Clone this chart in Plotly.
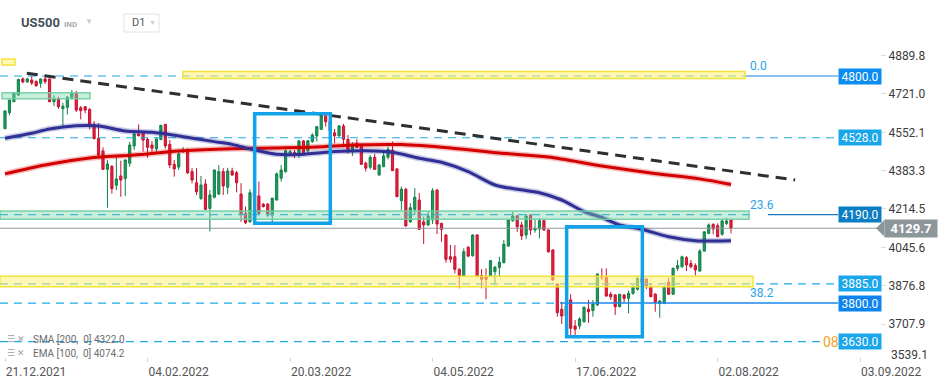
import plotly.graph_objects as go

# ---------------- data ----------------
open_ = [4568, 4638, 4687, 4716, 4787, 4774, 4782, 4777, 4768, 4787,
         4787, 4687, 4699, 4656, 4662, 4706, 4724, 4660, 4665, 4653,
         4587, 4526, 4470, 4389, 4402, 4319, 4360, 4348, 4416, 4492,
         4545, 4548, 4521, 4496, 4479, 4520, 4587, 4499, 4411, 4399,
         4468, 4474, 4379, 4330, 4261, 4324, 4217, 4266, 4280, 4379,
         4310, 4382, 4374, 4280, 4195, 4158, 4289, 4272, 4235, 4236,
         4188, 4254, 4350, 4379, 4460, 4464, 4460, 4514, 4471, 4511,
         4536, 4565, 4625, 4602, 4550, 4536, 4580, 4521, 4470, 4504,
         4492, 4416, 4398, 4442, 4364, 4401, 4442, 4474, 4391, 4251,
         4301, 4158, 4213, 4254, 4158, 4144, 4166, 4298, 4151, 4100,
         4004, 4004, 3949, 3919, 4046, 4009, 4100, 3921, 3916, 3919,
         3938, 3957, 3978, 4051, 4163, 4184, 4144, 4100, 4188, 4122,
         4126, 4163, 4122, 4034, 3884, 3773, 3743, 3814, 3699, 3699,
         3718, 3774, 3767, 3792, 3919, 3914, 3839, 3836, 3784, 3836,
         3821, 3843, 3861, 3910, 3906, 3872, 3840, 3799, 3799, 3892,
         3839, 3953, 3960, 4000, 3975, 3965, 3941, 4029, 4107, 4147,
         4141, 4103, 4151, 4166]
high = [4650, 4697, 4728, 4787, 4794, 4793, 4799, 4779, 4788, 4806,
        4788, 4715, 4709, 4682, 4712, 4738, 4734, 4668, 4668, 4658,
        4602, 4592, 4486, 4430, 4408, 4445, 4427, 4433, 4509, 4558,
        4587, 4558, 4527, 4513, 4528, 4584, 4589, 4518, 4430, 4465,
        4487, 4482, 4394, 4394, 4360, 4345, 4298, 4389, 4408, 4394,
        4396, 4396, 4382, 4328, 4225, 4301, 4307, 4335, 4241, 4240,
        4264, 4376, 4408, 4477, 4474, 4474, 4518, 4518, 4518, 4548,
        4580, 4628, 4636, 4611, 4567, 4584, 4589, 4540, 4509, 4521,
        4496, 4423, 4452, 4457, 4413, 4467, 4489, 4511, 4394, 4313,
        4308, 4240, 4306, 4284, 4180, 4203, 4306, 4301, 4154, 4104,
        4056, 4056, 3953, 4041, 4051, 4103, 4103, 3949, 3953, 3990,
        3964, 4004, 4078, 4169, 4203, 4188, 4158, 4192, 4190, 4166,
        4173, 4166, 4125, 4037, 3887, 3806, 3805, 3839, 3726, 3738,
        3784, 3814, 3814, 3931, 3953, 3953, 3850, 3839, 3840, 3839,
        3855, 3880, 3916, 3924, 3909, 3887, 3843, 3814, 3877, 3912,
        3956, 3990, 4009, 4007, 3990, 3975, 4038, 4117, 4151, 4151,
        4151, 4170, 4176, 4170]
low = [4566, 4627, 4684, 4712, 4768, 4769, 4760, 4753, 4748, 4765,
       4685, 4668, 4655, 4577, 4630, 4697, 4641, 4609, 4636, 4565,
       4521, 4448, 4386, 4220, 4282, 4298, 4268, 4272, 4401, 4474,
       4534, 4467, 4440, 4462, 4460, 4518, 4480, 4394, 4357, 4386,
       4461, 4368, 4327, 4276, 4254, 4210, 4115, 4261, 4276, 4276,
       4280, 4360, 4288, 4158, 4148, 4154, 4254, 4192, 4221, 4180,
       4154, 4251, 4335, 4374, 4452, 4438, 4438, 4457, 4452, 4506,
       4511, 4562, 4577, 4549, 4504, 4533, 4486, 4457, 4448, 4482,
       4408, 4379, 4389, 4386, 4361, 4398, 4433, 4382, 4266, 4210,
       4136, 4154, 4188, 4122, 4060, 4140, 4148, 4104, 4070, 3978,
       3978, 3931, 3865, 3916, 4002, 4004, 3914, 3865, 3817, 3916,
       3880, 3919, 3975, 4048, 4158, 4114, 4078, 4081, 4100, 4110,
       4085, 4119, 4022, 3899, 3740, 3708, 3726, 3655, 3652, 3685,
       3714, 3713, 3740, 3787, 3902, 3828, 3814, 3748, 3782, 3802,
       3755, 3836, 3855, 3884, 3862, 3826, 3762, 3736, 3795, 3836,
       3836, 3941, 3956, 3941, 3953, 3921, 3938, 4026, 4103, 4103,
       4090, 4097, 4144, 4107]
close = [4646, 4694, 4724, 4785, 4774, 4787, 4769, 4757, 4787, 4775,
         4687, 4699, 4665, 4667, 4706, 4724, 4650, 4647, 4650, 4584,
         4524, 4452, 4389, 4413, 4304, 4347, 4342, 4430, 4496, 4545,
         4537, 4518, 4486, 4482, 4523, 4583, 4492, 4408, 4391, 4457,
         4474, 4374, 4342, 4290, 4320, 4213, 4276, 4386, 4379, 4316,
         4382, 4364, 4330, 4192, 4154, 4286, 4263, 4195, 4225, 4188,
         4262, 4369, 4386, 4471, 4467, 4457, 4514, 4462, 4515, 4540,
         4577, 4625, 4598, 4558, 4537, 4580, 4521, 4477, 4494, 4486,
         4411, 4394, 4442, 4389, 4408, 4448, 4477, 4383, 4269, 4302,
         4140, 4220, 4266, 4125, 4144, 4184, 4295, 4148, 4125, 3993,
         3993, 3949, 3916, 4026, 4007, 4100, 3916, 3905, 3905, 3987,
         3958, 3980, 4059, 4166, 4184, 4136, 4096, 4184, 4122, 4129,
         4163, 4122, 4026, 3902, 3758, 3743, 3787, 3689, 3685, 3730,
         3782, 3762, 3796, 3928, 3914, 3831, 3828, 3784, 3839, 3821,
         3843, 3870, 3909, 3893, 3872, 3828, 3804, 3809, 3872, 3839,
         3953, 3965, 4004, 3968, 3960, 3946, 4029, 4114, 4144, 4126,
         4092, 4162, 4162, 4129.7]
bars = list(range(len(close)))

# moving averages, sampled at bars where read
sma_bars = [0, 9, 19, 29, 39, 49, 60, 70, 78, 89, 100, 111, 122, 134, 145, 156, 163]
sma_vals = [4369, 4408, 4439, 4452, 4470, 4479, 4483, 4487, 4496, 4498, 4483, 4461, 4443, 4404, 4373, 4347, 4322.0]
ema_bars = [0, 6, 10, 16, 21, 27, 33, 39, 47, 51, 56, 61, 66, 74, 81, 87, 93, 98, 104, 110,
            115, 120, 125, 130, 134, 138, 143, 149, 155, 163]
ema_vals = [4526, 4548, 4567, 4581, 4580, 4558, 4552, 4536, 4511, 4499, 4474, 4455, 4454, 4467, 4471,
            4464, 4438, 4420, 4379, 4320, 4301, 4286, 4254, 4203, 4177, 4144, 4125, 4092, 4075, 4074.2]

# drawn trend line (bar, price)
trend_bars = [4.9, 177.4]
trend_prices = [4812, 4342]

# horizontal levels
levels = [4800.0, 4528.0, 4190.0, 3885.0, 3800.0, 3630.0]
last_price = 4129.7
fib_labels = ["0.0", "23.6", "38.2"]
fib_levels = [4800.0, 4190.0, 3800.0]

# axes labels
x_tick_bars = [0, 32, 64, 96, 128, 160, 192]
x_tick_labels = ["21.12.2021", "04.02.2022", "20.03.2022", "04.05.2022", "17.06.2022", "02.08.2022", "03.09.2022"]
y_ticks = [4889.8, 4721.0, 4552.1, 4383.3, 4214.5, 4045.6, 3876.8, 3707.9, 3539.1]

# ---------------- geometry ----------------
W, H = 949, 385
MT, MB = 40, 28
PX0, DX = 5.0, 4.454           # pixel of bar 0, pixels per bar
XMIN, XMAX = (0 - PX0) / DX, (W - PX0) / DX
PPP = 0.2271                   # pixels per point
YTOP = 4800 + (76 - MT) / PPP
YBOT = 4800 - (H - MB - 76) / PPP
PH = H - MT - MB


def bx(px):
    return (px - PX0) / DX


def paper(px, py):
    return px / W, (H - MB - py) / PH


FONT = "Roboto"
LBLUE = "#22a6e6"

fig = go.Figure()

# horizontal level lines (drawn below bands)
def hline(x0, x1, y, color, dash=None, width=1.2):
    fig.add_trace(go.Scatter(x=[x0, x1], y=[y, y], mode="lines", hoverinfo="skip",
                             line=dict(color=color, width=width, dash=dash)))

hline(XMIN, bx(745), levels[0], LBLUE, "8px,6px")
hline(bx(745), bx(838), levels[0], "#1284ec")
hline(XMIN, bx(752), levels[2], LBLUE, "8px,6px")
hline(bx(768), bx(838), levels[2], "#1a78b8")
hline(XMIN, bx(838), levels[1], LBLUE, "8px,6px")
hline(XMIN, bx(838), levels[3], LBLUE, "8px,6px")
hline(XMIN, bx(560), levels[4], LBLUE, "8px,6px")
hline(bx(560), bx(838), levels[4], "#1a86ef", width=1.5)
hline(XMIN, bx(822), levels[5], LBLUE, "8px,6px")
hline(XMIN, bx(877), last_price, "#8f979c", width=1.2)

# candles
fig.add_trace(go.Candlestick(
    x=bars, open=open_, high=high, low=low, close=close,
    increasing=dict(line=dict(color="#12804a", width=1), fillcolor="#1d9a59"),
    decreasing=dict(line=dict(color="#c8102e", width=1), fillcolor="#e0243f"),
    whiskerwidth=0, hoverinfo="skip"))

# moving averages with glow
for bx_, vals, core, glow in [(sma_bars, sma_vals, "#d40000", "rgba(212,0,0,0.25)"),
                              (ema_bars, ema_vals, "#2f2f96", "rgba(47,47,150,0.25)")]:
    fig.add_trace(go.Scatter(x=bx_, y=vals, mode="lines", hoverinfo="skip",
                             line=dict(color=glow, width=6, shape="spline", smoothing=0.8)))
    fig.add_trace(go.Scatter(x=bx_, y=vals, mode="lines", hoverinfo="skip",
                             line=dict(color=core, width=3, shape="spline", smoothing=0.8)))

# trend line
fig.add_trace(go.Scatter(x=trend_bars, y=trend_prices, mode="lines", hoverinfo="skip",
                         line=dict(color="#2a3034", width=3, dash="11px,7px")))

# bands
def band(x0, x1, y0, y1, fill, border):
    fig.add_shape(type="rect", xref="x", yref="y", x0=x0, x1=x1, y0=y0, y1=y1,
                  fillcolor=fill, line=dict(color=border, width=1.5), layer="above")

GFILL, GLINE = "rgba(125,215,175,0.42)", "rgba(110,205,160,0.9)"
YFILL, YLINE = "rgba(255,243,120,0.55)", "#f3e23c"
band(bx(2), bx(90), 4700, 4726.5, GFILL, GLINE)
band(bx(2), bx(15), 4848, 4875, YFILL, YLINE)
band(bx(183), bx(745), 4789, 4820, YFILL, YLINE)
band(XMIN, bx(749), 4169, 4205.6, GFILL, GLINE)
band(XMIN, bx(753), 3872, 3918, YFILL, YLINE)

# selection boxes
for x0, x1, y0, y1 in [(56.06, 73.04, 4151.4, 4634.0), (126.1, 143.1, 3652.1, 4136.4)]:
    fig.add_shape(type="rect", xref="x", yref="y", x0=x0, x1=x1, y0=y0, y1=y1,
                  line=dict(color="#12a2ea", width=3.5), layer="above")

# right level labels
lab_cols = ["#0b8cf0", "#1aa6ea", "#0b7dc2", "#1aa6ea", "#0b84f0", "#1aa6ea"]
for v, c in zip(levels, lab_cols):
    fig.add_annotation(x=bx(838), y=v, xref="x", yref="y", xanchor="left", yanchor="middle",
                       text=f"{v:.1f}", showarrow=False, bgcolor=c, width=42, height=15,
                       borderpad=0, font=dict(family=FONT, size=12, color="white"))

# fib labels
for t, v in zip(fib_labels, fib_levels):
    fig.add_annotation(x=bx(748), y=v, xref="x", yref="y", xanchor="left", yanchor="bottom",
                       text=t, showarrow=False, yshift=1,
                       font=dict(family=FONT, size=12, color="#29a3e6"))
fig.add_annotation(x=bx(821), y=levels[5], xref="x", yref="y", xanchor="left", yanchor="middle",
                   text="08", showarrow=False, font=dict(family=FONT, size=14, color="#f5a21e"))

# current price tag
fig.add_annotation(x=bx(884), y=last_price, xref="x", yref="y", xanchor="left", yanchor="middle",
                   text=f"<b>{last_price:.1f}</b>", showarrow=False, bgcolor="#8d969b",
                   width=52, height=17, borderpad=0, font=dict(family=FONT, size=13, color="white"))
fig.add_shape(type="path", xref="x", yref="y", layer="above",
              path=f"M {bx(876)} {last_price} L {bx(884.5)} {last_price + 8.5 / PPP} "
                   f"L {bx(884.5)} {last_price - 8.5 / PPP} Z",
              fillcolor="#8d969b", line=dict(width=0))


# text helper in page pixels
def ptext(px, py, text, size, color, bold=False, anchor="left"):
    x, y = paper(px, py)
    fig.add_annotation(x=x, y=y, xref="paper", yref="paper", xanchor=anchor, yanchor="middle",
                       text=f"<b>{text}</b>" if bold else text, showarrow=False,
                       font=dict(family=FONT, size=size, color=color))


# bottom y label (sits just above the date row as in the reference)
ptext(889, 355, f"{y_ticks[-1]:.1f}", 12, "#3c3c3c")

# header
ptext(19, 23, "US500", 13, "#46505a", bold=True)
ptext(62, 24, "IND", 8, "#a5adb4", bold=True)
ptext(83, 22, "▼", 8, "#c8cdd1")
x0p, y0p = paper(124, 14)
x1p, y1p = paper(159, 32)
fig.add_shape(type="rect", xref="paper", yref="paper", x0=x0p, x1=x1p, y0=y0p, y1=y1p,
              line=dict(color="#dfe3e6", width=1), fillcolor="white")
ptext(130, 23, "D1", 11, "#555")
ptext(147, 23, "▼", 7, "#c8cdd1")

# indicator legend
ptext(5, 339, "☰ ✕", 9, "#a0a0a0")
ptext(31, 339, f"SMA [200,  0] {sma_vals[-1]:.1f}", 10, "#6d6d6d")
ptext(5, 353, "☰ ✕", 9, "#a0a0a0")
ptext(31, 353, f"EMA [100,  0] {ema_vals[-1]:.1f}", 10, "#6d6d6d")

fig.update_layout(
    width=W, height=H, margin=dict(l=0, r=0, t=MT, b=MB),
    paper_bgcolor="white", plot_bgcolor="white", showlegend=False,
    font=dict(family=FONT),
    xaxis=dict(range=[XMIN, XMAX], showgrid=False, zeroline=False, showline=False,
               tickvals=x_tick_bars, ticktext=x_tick_labels, ticks="outside", ticklen=4,
               tickcolor="#d5d5d5", ticklabelshift=31,
               tickfont=dict(family=FONT, size=12, color="#555"),
               rangeslider=dict(visible=False), fixedrange=True),
    yaxis=dict(range=[YBOT, YTOP], anchor="free", position=880 / W, side="right",
               showgrid=False, zeroline=False, showline=False,
               tickvals=y_ticks[:-1], ticktext=[f"{v:.1f}" for v in y_ticks[:-1]],
               ticks="outside", ticklen=5, tickcolor="#dcdcdc",
               tickfont=dict(family=FONT, size=12, color="#3c3c3c"), fixedrange=True),
)

fig.write_html("out.html", config={"displayModeBar": False},
               post_script="document.body.style.margin='0';document.body.style.padding='0';"
                           "document.body.style.overflow='hidden';")
